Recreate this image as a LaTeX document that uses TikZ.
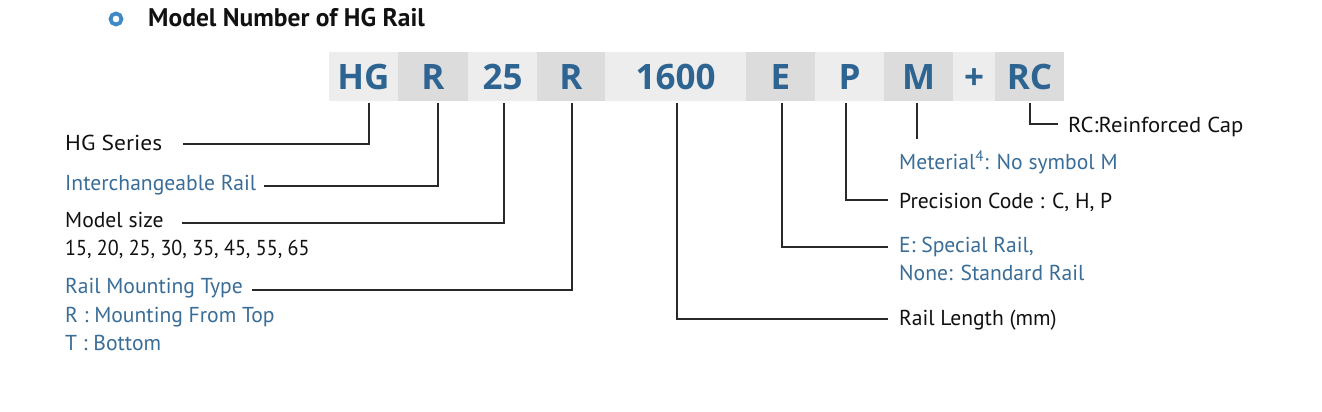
\documentclass[tikz,border=0pt]{standalone}
\usepackage{fontspec}
\setmainfont{PT Sans}
\newfontfamily\codefont{Open Sans}
\definecolor{codeblue}{HTML}{2D6491}
\definecolor{lblblue}{HTML}{3A6D97}
\definecolor{boxlight}{HTML}{EDEDED}
\definecolor{boxdark}{HTML}{DCDCDC}
\definecolor{ringblue}{HTML}{3F8AC6}
\definecolor{ink}{HTML}{111111}
\begin{document}
\begin{tikzpicture}[x=1pt,y=-1pt,
  codebox/.style={inner sep=0, minimum height=49, text height=26, text depth=0,
    font=\codefont\bfseries\fontsize{35}{35}\selectfont, text=codeblue},
  lt/.style={codebox, fill=boxlight},
  dk/.style={codebox, fill=boxdark},
  lbl/.style={anchor=base west, inner sep=0, font=\fontsize{21.6}{25}\selectfont, text=ink},
  blbl/.style={lbl, text=lblblue},
  conn/.style={draw=ink!90, line width=1.3pt}
]
\useasboundingbox (0,0) rectangle (1322,412);
\fill[white] (0,0) rectangle (1322,412);

% title
\node[circle, draw=ringblue, line width=3.8pt, minimum size=11, inner sep=0] (bullet) at (116,19) {};
\node[anchor=base west, inner sep=0, text=ink, font=\bfseries\fontsize{25.5}{28}\selectfont] (title) at (148,27) {Model Number of HG Rail};

% code boxes
\node[lt, minimum width=69] (hg)  at (363.5,76.5) {HG};
\node[dk, minimum width=70] (r1)  at (433,76.5) {R};
\node[lt, minimum width=69] (sz)  at (502.5,76.5) {25};
\node[dk, minimum width=68] (r2)  at (571,76.5) {R};
\node[lt, minimum width=141] (len) at (675.5,76.5) {1600};
\node[dk, minimum width=69] (e)   at (780.5,76.5) {E};
\node[lt, minimum width=69] (p)   at (849.5,76.5) {P};
\node[dk, minimum width=69] (m)   at (918.5,76.5) {M};
\node[lt, minimum width=42] (plus) at (974,76.5) {+};
\node[dk, minimum width=69] (rc)  at (1029.5,76.5) {RC};

% left labels
\node[lbl]  (lhg) at (65,150) {\scalebox{1.09}[1]{HG Series}};
\node[blbl] (lir) at (65,190) {Interchangeable Rail};
\node[lbl]  (lms) at (65,227) {Model size};
\node[lbl]  (lms2) at (65,255) {\scalebox{0.93}[1]{15, 20, 25, 30, 35, 45, 55, 65}};
\node[blbl] (lrm) at (65,293) {Rail Mounting Type};
\node[blbl] (lrm2) at (65,322) {R : Mounting From Top};
\node[blbl] (lrm3) at (65,350) {T : Bottom};

% right labels
\node[lbl]  (lrc) at (1068,132) {\scalebox{1.05}[1]{RC:Reinforced Cap}};
\node[blbl] (lm)  at (899,169) {Meterial\textsuperscript{4}: No symbol M};
\node[lbl]  (lp)  at (899,208) {Precision Code : C, H, P};
\node[blbl] (le)  at (899,252) {E: Special Rail,};
\node[blbl] (le2) at (899,280) {None: Standard Rail};
\node[lbl]  (llen) at (899,325) {Rail Length (mm)};

% connector ends
\coordinate (ehg) at (183,144);
\coordinate (eir) at (264,186);
\coordinate (ems) at (182,223);
\coordinate (erm) at (252,290);
\coordinate (erc) at (1058,124);
\coordinate (em)  at (917,139);
\coordinate (ep)  at (888,200);
\coordinate (ee)  at (888,247);
\coordinate (elen) at (888,319);

% connectors
\draw[conn] ([xshift=5.5,yshift=-2]hg.south) |- (ehg);
\draw[conn] ([xshift=5,yshift=-2]r1.south) |- (eir);
\draw[conn] ([xshift=1.5,yshift=-2]sz.south) |- (ems);
\draw[conn] ([xshift=1,yshift=-2]r2.south) |- (erm);
\draw[conn] ([xshift=1.5,yshift=-2]len.south) |- (elen);
\draw[conn] ([xshift=1.5,yshift=-2]e.south) |- (ee);
\draw[conn] ([xshift=-3.5,yshift=-2]p.south) |- (ep);
\draw[conn] ([xshift=-1.5,yshift=-2]m.south) -- (em);
\draw[conn] ([xshift=0.5,yshift=-2]rc.south) |- (erc);
\end{tikzpicture}
\end{document}
